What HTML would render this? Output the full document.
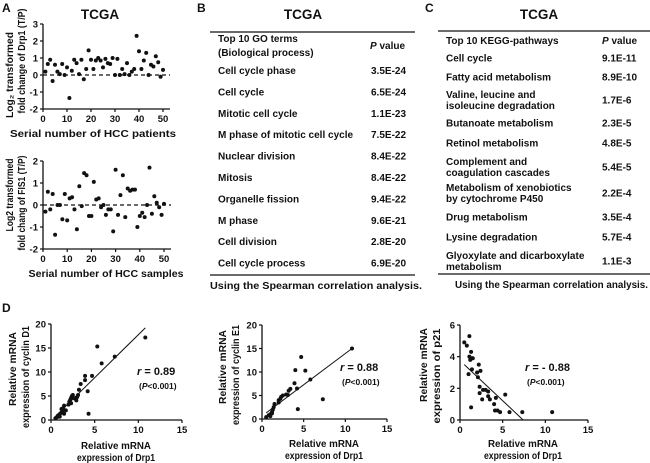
<!DOCTYPE html>
<html><head><meta charset="utf-8"><style>
html,body{margin:0;padding:0;background:#fff}
svg{display:block;font-family:"Liberation Sans",Arial,sans-serif;font-weight:bold}
text{fill:#111}
.tk{font-size:9.5px}
.at{font-size:10px}
.tb{font-size:10px}
</style></head><body>
<svg id="fig" width="650" height="463" viewBox="0 0 650 463" xmlns="http://www.w3.org/2000/svg">
<text x="2" y="12" font-size="12">A</text>
<text x="100" y="19" font-size="13.5" text-anchor="middle">TCGA</text>
<text x="197" y="12" font-size="12">B</text>
<text x="303" y="19" font-size="13.5" text-anchor="middle">TCGA</text>
<text x="425" y="12" font-size="12">C</text>
<text x="539" y="19" font-size="13.5" text-anchor="middle">TCGA</text>
<text x="2" y="312" font-size="12">D</text>
<g id="tables"></g>
<g id="charts"></g>
</svg>
<script>
// Panel A data
const drp1Values=[0.2,0.65,0.9,-0.35,0.6,0.2,0.05,0.65,0,0.45,-1.35,0.25,0.9,0.7,0.05,0.9,-0.25,0.35,1.45,0.9,0.35,0.85,1.0,0.85,0.45,0.95,0.7,0.65,1.0,0,0.95,0,0.35,0.05,0.7,0,0.2,0.35,2.3,1.4,0.35,0.85,1.3,0,0.6,0.5,1.1,0.75,-0.1,0.3];
const fis1Values=[-0.3,0.6,-0.2,0.5,-1.35,0,0,-0.65,0.5,-0.7,0.3,0.35,-0.2,-1.1,0.85,-0.05,1.45,1.35,-0.5,-0.5,1.05,0.25,0.3,-0.1,0,-0.45,-0.2,-0.2,-1.2,1.6,-0.45,0.45,1.35,-0.55,0.75,0.65,0.7,0.7,-1.0,-0.5,-0.35,-0.55,0,1.7,-0.4,0.4,0.1,-0.1,-0.45,0.05];
const aTopTicks=[3,2,1,0,-1,-2];
const aBotTicks=[2,1,0,-1,-2];
const aXTicks=[0,10,20,30,40,50];
// Panel D data
const d1X=[0.5,0.7,0.8,1,1,1.2,1.2,1.3,1.4,1.5,1.5,1.7,2,2.1,2.2,2.3,2.4,2.5,2.3,2.7,2.9,3.1,3.2,3.4,3.0,3.9,3.9,4.2,4.3,4.7,5.3,5.8,7.3,10.8];
const d1Y=[0.3,0.6,0.9,1.2,0.7,1.5,2.3,1.8,2.5,3.0,1.3,2.0,3.2,3.8,4.2,4.6,5.0,5.2,3.5,4.5,4.1,5.2,6.3,7.5,4.8,8.3,9.2,6.0,1.3,9.2,15.3,11.8,13.2,17.2];
const e1X=[0.5,0.8,1,1.2,1.3,1.4,1.5,1.2,1,2,2,2.2,2.3,2.5,2.9,3.1,3.2,3.4,3.9,4,4.2,4.3,4.7,5.2,5.8,7.3,10.8];
const e1Y=[0.4,0.8,1,1.5,2,2.5,3.2,1.2,0.6,3.5,4,4.3,4.7,5,5.2,5.1,6,6.4,7.6,10.4,6.5,2.1,13.2,10.3,8.4,4.2,15];
const p21X=[0.5,0.8,1.1,1,1.1,1.2,1.3,1.4,1.5,1.4,1.3,2,2.1,2.2,2.3,2.4,2.3,2.6,2.7,3,3.3,3.3,3.5,4,4.1,4.2,4.4,4.7,5.3,5.8,7.3,10.8];
const p21Y=[4.9,4.7,5.3,2.9,4,3.8,4.3,3.9,3.9,3.2,0.8,3,2.7,3.5,2.1,3.1,1.7,1.3,1.9,1.9,1.8,1.5,1.3,1,0.6,1.4,0.6,0.5,1.6,0.5,0.5,0.5];
const dXTicks=[0,5,10,15];
const d1YTicks=[0,5,10,15,20];
const p21YTicks=[0,2,4,6];
const d1Fit=[[0.3,0.4],[10.8,19.2]];
const e1Fit=[[0.5,1.3],[10.8,15]];
const p21Fit=[[0.5,3.5],[7.4,0]];
// Tables
const goTerms=["Cell cycle phase","Cell cycle","Mitotic cell cycle","M phase of mitotic cell cycle","Nuclear division","Mitosis","Organelle fission","M phase","Cell division","Cell cycle process"];
const goP=["3.5E-24","6.5E-24","1.1E-23","7.5E-22","8.4E-22","8.4E-22","9.4E-22","9.6E-21","2.8E-20","6.9E-20"];
const keggTerms=[["Cell cycle"],["Fatty acid metabolism"],["Valine, leucine and","isoleucine degradation"],["Butanoate metabolism"],["Retinol metabolism"],["Complement and","coagulation cascades"],["Metabolism of xenobiotics","by cytochrome P450"],["Drug metabolism"],["Lysine degradation"],["Glyoxylate and dicarboxylate","metabolism"]];
const keggP=["9.1E-11","8.9E-10","1.7E-6","2.3E-5","4.8E-5","5.4E-5","2.2E-4","3.5E-4","5.7E-4","1.1E-3"];

const NS="http://www.w3.org/2000/svg";
function mk(parent,tag,attrs,txt){const e=document.createElementNS(NS,tag);for(const k in attrs)e.setAttribute(k,attrs[k]);if(txt!==undefined)e.textContent=txt;parent.appendChild(e);return e;}
const charts=document.getElementById('charts');
const tables=document.getElementById('tables');

function scatter(o){
  const g=mk(charts,'g',{});
  
  
  const sx=v=>o.x0+(v-o.xmin)/(o.xmax-o.xmin)*(o.x1-o.x0);
  const sy=v=>o.y0-(v-o.ymin)/(o.ymax-o.ymin)*(o.y0-o.y1);
  const ax=mk(g,'path',{d:`M${o.x0} ${o.y1}V${o.y0}H${o.xEnd}`,stroke:'#111','stroke-width':1.3,fill:'none'});
  
  
  o.yTicks.forEach(t=>{
    mk(g,'line',{x1:o.x0-3,x2:o.x0,y1:sy(t),y2:sy(t),stroke:'#111','stroke-width':1.2});
    const l=mk(g,'text',{x:o.x0-5,y:sy(t)+3.5,'text-anchor':'end',class:'tk'},String(t));
    
    
  });
  o.xTicks.forEach(t=>{
    mk(g,'line',{x1:sx(t),x2:sx(t),y1:o.y0,y2:o.y0+3,stroke:'#111','stroke-width':1.2});
    const l=mk(g,'text',{x:sx(t),y:o.y0+13,'text-anchor':'middle',class:'tk'},String(t));
    
    
  });
  if(o.zeroLine){
    const z=mk(g,'line',{x1:o.x0,x2:o.xEnd,y1:sy(0),y2:sy(0),stroke:'#111','stroke-width':1.2,'stroke-dasharray':'4,3'});
    
    
  }
  if(o.fit){
    const f=mk(g,'line',{x1:sx(o.fit[0][0]),y1:sy(o.fit[0][1]),x2:sx(o.fit[1][0]),y2:sy(o.fit[1][1]),stroke:'#111','stroke-width':1});
    
    
  }
  o.ys.forEach((v,i)=>{
    const c=mk(g,'circle',{cx:sx(o.xs[i]),cy:sy(v),r:2,fill:'#111'});
    
    
  });
  o.yLab.forEach((s,i)=>{
    const t=mk(g,'text',{x:0,y:0,transform:`translate(${o.yLabX[i]},${o.yLabY[i]}) rotate(-90)`,'text-anchor':'middle',class:'at',textLength:o.yLabL[i],lengthAdjust:'spacingAndGlyphs'},s);
    
    
  });
  o.xLab.forEach((s,i)=>{
    const t=mk(g,'text',{x:o.xLabX,y:o.xLabY+i*12,'text-anchor':'middle',class:'at',textLength:o.xLabL[i],lengthAdjust:'spacingAndGlyphs'},s);
    
    
  });
  if(o.r){
    const t=mk(g,'text',{x:o.rx,y:o.ry,'font-size':11});
    
    
    mk(t,'tspan',{'font-style':'italic'},'r');
    mk(t,'tspan',{},' = '+o.r);
    const p=mk(g,'text',{x:o.rx+2,y:o.ry+14,'font-size':8.5});
    
    
    mk(p,'tspan',{},'(');mk(p,'tspan',{'font-style':'italic'},'P');mk(p,'tspan',{},'<0.001)');
  }
}
const idx=drp1Values.map((v,i)=>i+1);
scatter({name:'drp1-scatter',xs:idx,ys:drp1Values,xmin:0,xmax:50,x0:43,x1:163,xEnd:170,ymin:-2,ymax:3,y0:109,y1:24,yTicks:aTopTicks,xTicks:aXTicks,zeroLine:true,
  yLab:['Log\u2082 transformed','fold change of Drp1 (T/P)'],yLabX:[13,25],yLabY:[75,61],yLabL:[86,105],xLab:['Serial number of HCC patients'],xLabL:[166],xLabX:93,xLabY:137});
scatter({name:'fis1-scatter',xs:fis1Values.map((v,i)=>i+1),ys:fis1Values,xmin:0,xmax:50,x0:43,x1:164,xEnd:171,ymin:-2,ymax:2,y0:249,y1:161,yTicks:aBotTicks,xTicks:aXTicks,zeroLine:true,
  yLab:['Log2 transformed','fold chang of FIS1 (T/P)'],yLabX:[13,25],yLabY:[195,203],yLabL:[73,95],xLab:['Serial number of HCC samples'],xLabL:[155],xLabX:106,xLabY:277});
scatter({name:'cyclin-d1-scatter',xs:d1X,ys:d1Y,xmin:0,xmax:15,x0:51,x1:182,xEnd:182,ymin:0,ymax:20,y0:420,y1:324,yTicks:d1YTicks,xTicks:dXTicks,fit:d1Fit,
  yLab:['Relative mRNA','expression of cyclin D1'],yLabX:[16,29],yLabY:[369,377],yLabL:[74,102],xLab:['Relative mRNA','expression of Drp1'],xLabL:[70,78],xLabX:116,xLabY:449,r:'0.89',rx:137,ry:375});
scatter({name:'cyclin-e1-scatter',xs:e1X,ys:e1Y,xmin:0,xmax:15,x0:262,x1:387,xEnd:387,ymin:0,ymax:20,y0:419,y1:325,yTicks:d1YTicks,xTicks:dXTicks,fit:e1Fit,
  yLab:['Relative mRNA','expression of cyclin E1'],yLabX:[226,239],yLabY:[367,375],yLabL:[74,100],xLab:['Relative mRNA','expression of Drp1'],xLabL:[70,78],xLabX:324,xLabY:447,r:'0.88',rx:340,ry:371});
scatter({name:'p21-scatter',xs:p21X,ys:p21Y,xmin:0,xmax:15,x0:460,x1:588,xEnd:588,ymin:0,ymax:6,y0:420,y1:325,yTicks:p21YTicks,xTicks:dXTicks,fit:p21Fit,
  yLab:['Relative mRNA','expression of p21'],yLabX:[427,440],yLabY:[365,376],yLabL:[74,95],xLab:['Relative mRNA','expression of Drp1'],xLabL:[70,78],xLabX:523,xLabY:447,r:'- 0.88',rx:525,ry:371});

// Table B
(function(){
  const g=mk(tables,'g',{});
  
  
  mk(g,'line',{x1:210,x2:415,y1:32,y2:32,stroke:'#111','stroke-width':1.3});
  mk(g,'line',{x1:210,x2:415,y1:275,y2:275,stroke:'#111','stroke-width':1.3});
  mk(g,'text',{x:218,y:42,class:'tb'},'Top 10 GO terms');
  mk(g,'text',{x:218,y:56,class:'tb'},'(Biological process)');
  const h=mk(g,'text',{x:370,y:49,class:'tb'});mk(h,'tspan',{'font-style':'italic'},'P');mk(h,'tspan',{},' value');
  goTerms.forEach((t,i)=>{
    const y=74+i*21.4;
    const a=mk(g,'text',{x:218,y:y,class:'tb'},t);
    
    
    const b=mk(g,'text',{x:371,y:y,class:'tb'},goP[i]);
    
    
  });
  mk(g,'text',{x:210,y:289,class:'tb',textLength:212,lengthAdjust:'spacingAndGlyphs'},'Using the Spearman correlation analysis.');
})();
// Table C
(function(){
  const g=mk(tables,'g',{});
  
  
  mk(g,'line',{x1:438,x2:650,y1:31,y2:31,stroke:'#111','stroke-width':1.3});
  mk(g,'line',{x1:438,x2:650,y1:274,y2:274,stroke:'#111','stroke-width':1.3});
  mk(g,'text',{x:446,y:44,class:'tb'},'Top 10 KEGG-pathways');
  const h=mk(g,'text',{x:602,y:44,class:'tb'});mk(h,'tspan',{'font-style':'italic'},'P');mk(h,'tspan',{},' value');
  const cy=[58,77,100,123,143,167,193,217,237,261];
  keggTerms.forEach((lines,i)=>{
    const y0=cy[i]-(lines.length-1)*5.5+3.5;
    lines.forEach((s,j)=>{
      const a=mk(g,'text',{x:446,y:y0+j*11,class:'tb'},s);
      
      
    });
    const b=mk(g,'text',{x:602,y:cy[i]+3.5,class:'tb'},keggP[i]);
    
    
  });
  mk(g,'text',{x:455,y:288,class:'tb',textLength:193,lengthAdjust:'spacingAndGlyphs'},'Using the Spearman correlation analysis.');
})();
</script>
</body></html>
